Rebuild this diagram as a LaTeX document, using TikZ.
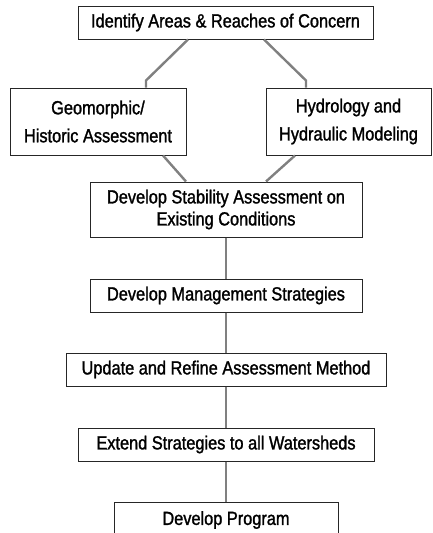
\documentclass[tikz,border=0pt]{standalone}
\usepackage{fontspec}
\setmainfont{Liberation Sans}[FakeStretch=0.86,FakeBold=1.4]
\begin{document}
\begin{tikzpicture}[x=1pt,y=-1pt,
  box/.style={draw=black!85, line width=1pt, fill=white, align=center, inner sep=0pt,
    font=\fontsize{19}{22}\selectfont},
  conn/.style={draw=black!50, line width=2.4pt}]
\clip (0,0) rectangle (432,533);
\useasboundingbox (0,0) rectangle (432,533);
\node[box, minimum width=295, minimum height=33] (b1) at (225.5,22.5) {Identify Areas \& Reaches of Concern};
\node[box, minimum width=176, minimum height=67, font=\fontsize{19}{28}\selectfont] (b2) at (98,121.5) {Geomorphic/\\Historic Assessment};
\node[box, minimum width=165, minimum height=67, font=\fontsize{19}{28}\selectfont] (b3) at (348.5,121.5) {Hydrology and\\Hydraulic Modeling};
\node[box, minimum width=272, minimum height=55] (b4) at (226,209.5) {Develop Stability Assessment on\\Existing Conditions};
\node[box, minimum width=272, minimum height=33] (b5) at (226,295.5) {Develop Management Strategies};
\node[box, minimum width=320, minimum height=33] (b6) at (226,369.5) {Update and Refine Assessment Method};
\node[box, minimum width=296, minimum height=33] (b7) at (226,444.5) {Extend Strategies to all Watersheds};
\node[box, minimum width=224, minimum height=36] (b8) at (226,520) {Develop Program};
\draw[conn] ([xshift=-37.5]b1.south) -- ([xshift=48,yshift=7]b2.north) -- ([xshift=48]b2.north);
\draw[conn] ([xshift=38.5]b1.south) -- ([xshift=-42.5,yshift=7]b3.north) -- ([xshift=-42.5]b3.north);
\draw[conn] ([xshift=65]b2.south) -- ([xshift=-40]b4.north);
\draw[conn] ([xshift=-53.5]b3.south) -- ([xshift=40]b4.north);
\draw[conn] (b4.south) -- (b5.north);
\draw[conn] (b5.south) -- (b6.north);
\draw[conn] (b6.south) -- (b7.north);
\draw[conn] (b7.south) -- (b8.north);
\end{tikzpicture}
\end{document}
